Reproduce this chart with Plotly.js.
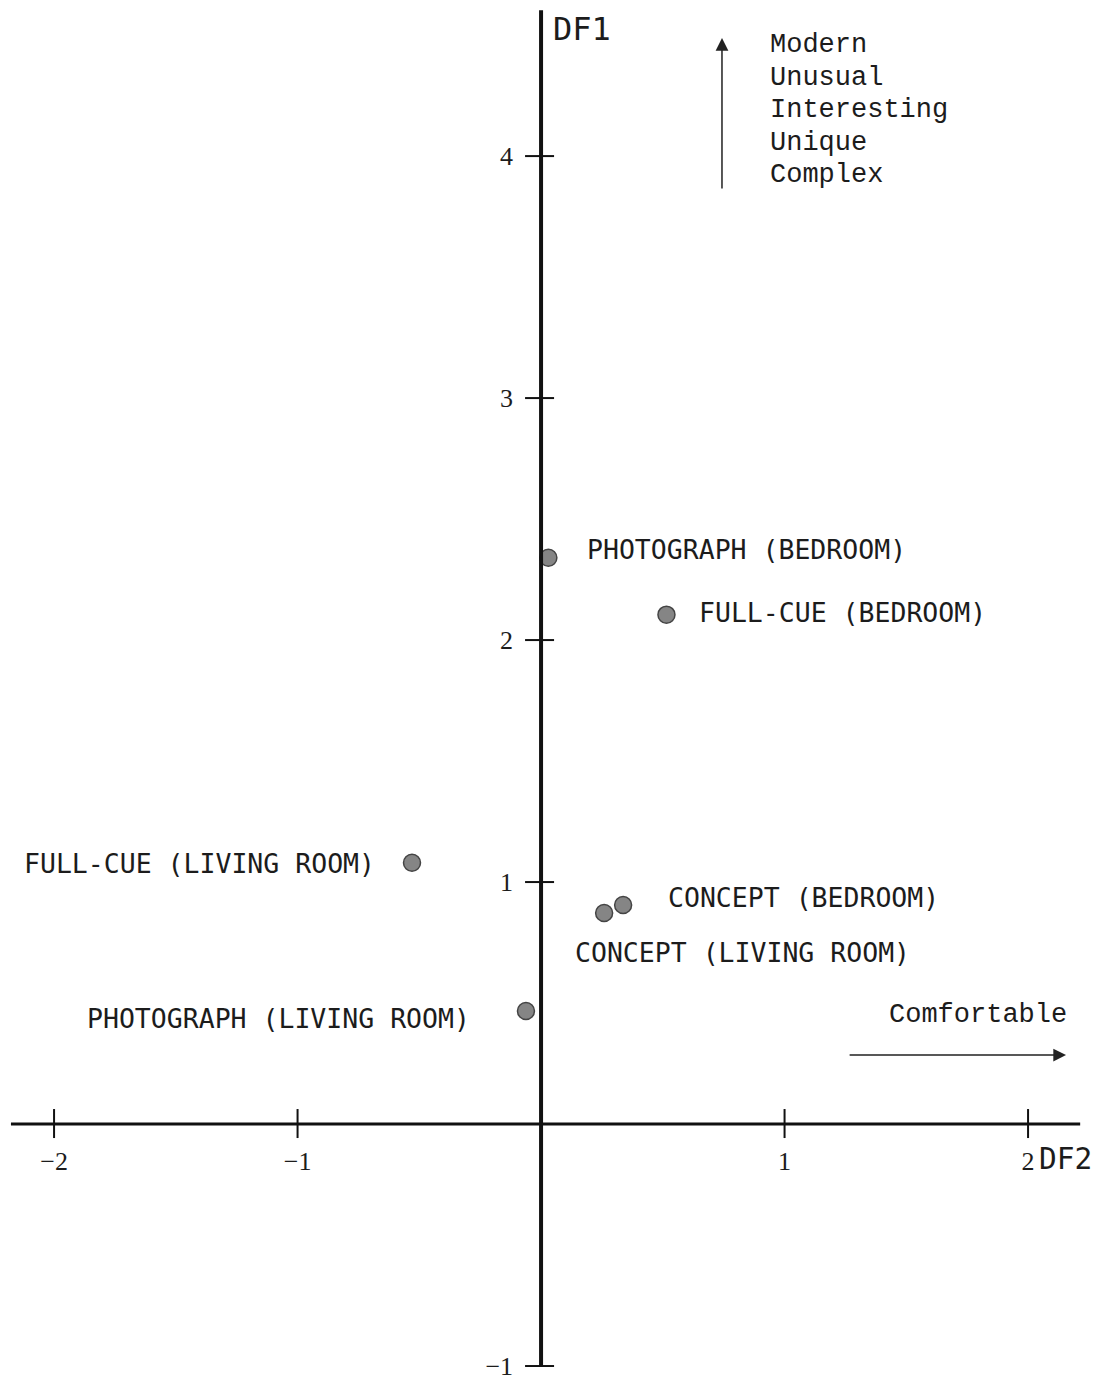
<!DOCTYPE html>
<html>
<head>
<meta charset="utf-8">
<script src="https://cdn.plot.ly/plotly-3.0.1.min.js"></script>
<style>html,body{margin:0;padding:0;background:#fff;}#chart{width:1096px;height:1382px;}</style>
</head>
<body>
<div id="chart"></div>
<script>
// ---- data ----
const labels = [
  "PHOTOGRAPH (BEDROOM)",
  "FULL-CUE (BEDROOM)",
  "FULL-CUE (LIVING ROOM)",
  "CONCEPT (BEDROOM)",
  "CONCEPT (LIVING ROOM)",
  "PHOTOGRAPH (LIVING ROOM)"
];
const df2 = [0.03, 0.515, -0.53, 0.337, 0.259, -0.062];
const df1 = [2.34, 2.105, 1.08, 0.905, 0.872, 0.467];
const xTicks = [-2, -1, 1, 2];
const yTicks = [-1, 1, 2, 3, 4];
const xTickText = ["\u22122", "\u22121", "1", "2"];
const yTickText = ["\u22121", "1", "2", "3", "4"];
const df1Words = ["Modern", "Unusual", "Interesting", "Unique", "Complex"];
const df2Words = ["Comfortable"];

// ---- layout / styles ----
const xRange = [-2.222, 2.279];
const yRange = [-1.066, 4.645];
const pxY = (yRange[1] - yRange[0]) / 1382;
const ink = "#1c1c1c";
const labelFont = {family: "DejaVu Sans Mono, Liberation Mono, monospace", size: 26.5, color: ink};
const monoFont = {family: "Liberation Mono, DejaVu Sans Mono, monospace", size: 27, color: ink};
const tickFont = {family: "Liberation Serif, DejaVu Serif, serif", size: 26, color: ink};
const nameFont1 = {family: "DejaVu Sans Mono, monospace", size: 32, color: ink};
const nameFont2 = {family: "DejaVu Sans Mono, monospace", size: 29.5, color: ink};
// label placement relative to each point: [xanchor, xshift, yshift]
const labelPlace = [
  ["left", 37, 8],
  ["left", 31, 2],
  ["right", -35, -1],
  ["left", 43, 8],
  ["left", -31, -39],
  ["right", -54, -7]
];

const shapes = [];
// axis lines
shapes.push({type: "line", xref: "x", yref: "y", x0: -2.177, x1: 2.214, y0: 0, y1: 0, line: {color: "#111", width: 3}});
shapes.push({type: "line", xref: "x", yref: "y", x0: 0, x1: 0, y0: -1.0, y1: 4.603, line: {color: "#111", width: 4}});
// crossing ticks
xTicks.forEach(v => shapes.push({type: "line", xref: "x", yref: "y", ysizemode: "pixel", yanchor: 0,
  x0: v, x1: v, y0: -14, y1: 15, line: {color: "#111", width: 2}}));
yTicks.forEach(v => shapes.push({type: "line", xref: "x", yref: "y", xsizemode: "pixel", xanchor: 0,
  y0: v, y1: v, x0: -16, x1: 13, line: {color: "#111", width: 2}}));

const annotations = [];
labels.forEach((t, i) => annotations.push({
  x: df2[i], y: df1[i], xref: "x", yref: "y", text: t, showarrow: false,
  xanchor: labelPlace[i][0], yanchor: "middle", xshift: labelPlace[i][1], yshift: labelPlace[i][2],
  font: labelFont
}));
// axis names
annotations.push({x: 0, y: yRange[1], xref: "x", yref: "y", text: "DF1", showarrow: false,
  xanchor: "left", yanchor: "middle", xshift: 10, yshift: -29, font: nameFont1});
annotations.push({x: 2, y: 0, xref: "x", yref: "y", text: "DF2", showarrow: false,
  xanchor: "left", yanchor: "middle", xshift: 9, yshift: -35, font: nameFont2});
// DF1 descriptor list with upward arrow
df1Words.forEach((w, i) => annotations.push({
  x: 0.93, y: yRange[1] - (45 + i * 32.5) * pxY, xref: "x", yref: "y", text: w, showarrow: false,
  xanchor: "left", yanchor: "middle", font: monoFont
}));
annotations.push({x: 0.743, y: 4.488, ax: 0.743, ay: 3.86,
  xref: "x", yref: "y", axref: "x", ayref: "y", text: "", showarrow: true,
  arrowhead: 2, arrowsize: 1.7, arrowwidth: 1.5, arrowcolor: "#222"});
// DF2 descriptor with right arrow
annotations.push({x: 2.17, y: 0.285, xref: "x", yref: "y", text: df2Words[0], showarrow: false,
  xanchor: "right", yanchor: "middle", yshift: 40, font: monoFont});
annotations.push({x: 2.156, y: 0.285, ax: 1.261, ay: 0.285,
  xref: "x", yref: "y", axref: "x", ayref: "y", text: "", showarrow: true,
  arrowhead: 2, arrowsize: 1.7, arrowwidth: 1.5, arrowcolor: "#222"});

const trace = {
  x: df2, y: df1, type: "scatter", mode: "markers", text: labels, hoverinfo: "text",
  marker: {size: 17, color: "#858585", line: {color: "#444", width: 1.5}}
};

const layout = {
  width: 1096, height: 1382,
  margin: {l: 0, r: 0, t: 0, b: 0},
  paper_bgcolor: "#fff", plot_bgcolor: "#fff",
  showlegend: false,
  xaxis: {range: xRange, anchor: "free", position: (0 - yRange[0]) / (yRange[1] - yRange[0]),
    showgrid: false, zeroline: false, showline: false, ticks: "",
    tickmode: "array", tickvals: xTicks, ticktext: xTickText,
    ticklabelstandoff: 19, tickfont: tickFont},
  yaxis: {range: yRange, anchor: "free", position: (0 - xRange[0]) / (xRange[1] - xRange[0]),
    showgrid: false, zeroline: false, showline: false, ticks: "",
    tickmode: "array", tickvals: yTicks, ticktext: yTickText,
    ticklabelstandoff: 28, tickfont: tickFont},
  shapes: shapes,
  annotations: annotations
};

Plotly.newPlot("chart", [trace], layout, {displayModeBar: false, staticPlot: true});
</script>
</body>
</html>
